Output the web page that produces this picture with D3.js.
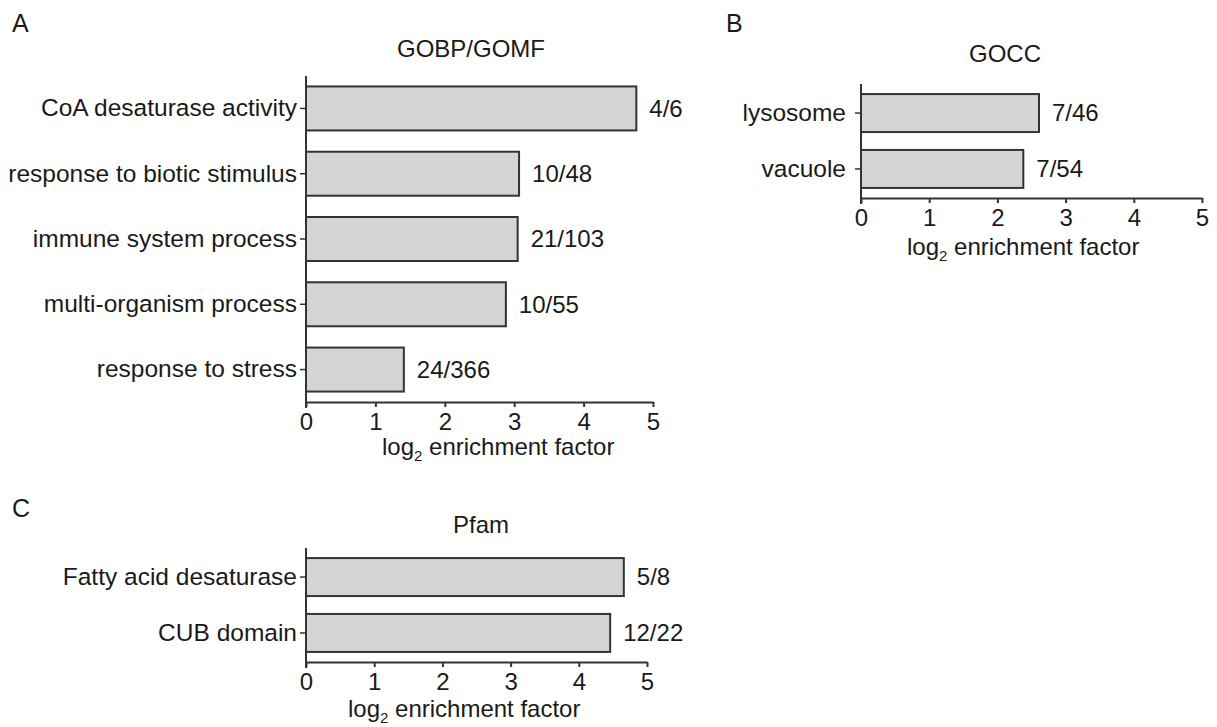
<!DOCTYPE html>
<html>
<head>
<meta charset="utf-8">
<script src="https://cdn.jsdelivr.net/npm/d3@7"></script>
<style>
  body { margin: 0; background: #fff; }
  text { font-family: "Liberation Sans", Arial, sans-serif; fill: #1a1a1a; }
</style>
</head>
<body>
<script>
// ---- data ----
var catsA = ["CoA desaturase activity", "response to biotic stimulus", "immune system process",
             "multi-organism process", "response to stress"];
var valsA = [4.76, 3.07, 3.05, 2.88, 1.41];
var countsA = ["4/6", "10/48", "21/103", "10/55", "24/366"];

var catsB = ["lysosome", "vacuole"];
var valsB = [2.61, 2.38];
var countsB = ["7/46", "7/54"];

var catsC = ["Fatty acid desaturase", "CUB domain"];
var valsC = [4.66, 4.46];
var countsC = ["5/8", "12/22"];

var xTicks = [0, 1, 2, 3, 4, 5];

var svg = d3.select("body").append("svg")
    .attr("width", 1217)
    .attr("height", 727);

// panel letters
[["A", 12, 32], ["B", 726, 32], ["C", 12, 517]].forEach(function(p) {
  svg.append("text").attr("x", p[1]).attr("y", p[2])
     .style("font-size", "25px").text(p[0]);
});

function drawPanel(cfg, cats, vals, counts) {
  var x = d3.scaleLinear().domain([0, 5]).range([cfg.x0, cfg.x1]);
  var y = d3.scaleBand().domain(cats).range([cfg.y0, cfg.y1])
      .paddingInner(cfg.padIn).paddingOuter(cfg.padOut);

  var g = svg.append("g");

  // bars
  g.selectAll("rect.bar").data(vals).enter().append("rect")
      .attr("class", "bar")
      .attr("x", x(0))
      .attr("y", function(d, i) { return y(cats[i]); })
      .attr("width", function(d) { return x(d) - x(0); })
      .attr("height", y.bandwidth())
      .attr("fill", "#d4d4d4")
      .attr("stroke", "#333")
      .attr("stroke-width", 2);

  // count labels
  g.selectAll("text.count").data(counts).enter().append("text")
      .attr("class", "count")
      .attr("x", function(d, i) { return x(vals[i]) + 13; })
      .attr("y", function(d, i) { return y(cats[i]) + y.bandwidth() / 2; })
      .attr("dy", "0.35em")
      .style("font-size", "24px")
      .text(function(d) { return d; });

  // y axis
  var ya = g.append("g")
      .attr("transform", "translate(" + cfg.x0 + ",0)")
      .call(d3.axisLeft(y).tickSize(6).tickPadding(cfg.yPad).tickSizeOuter(0));
  ya.select(".domain").remove();
  ya.append("line")
      .attr("x1", 0).attr("x2", 0)
      .attr("y1", cfg.y0).attr("y2", cfg.y1 + 6)
      .attr("stroke", "#333").attr("stroke-width", 2);
  ya.selectAll(".tick line").attr("stroke", "#333").attr("stroke-width", 1.5);
  ya.selectAll(".tick text")
      .attr("fill", "#1a1a1a")
      .style("font-family", "'Liberation Sans', Arial, sans-serif")
      .style("font-size", "24.5px");

  // x axis
  var xa = g.append("g")
      .attr("transform", "translate(0," + cfg.y1 + ")")
      .call(d3.axisBottom(x).tickValues(xTicks).tickFormat(d3.format("d"))
            .tickSize(5).tickPadding(6).tickSizeOuter(0));
  xa.select(".domain").attr("stroke", "#333").attr("stroke-width", 2);
  xa.selectAll(".tick line").attr("stroke", "#333").attr("stroke-width", 2);
  xa.selectAll(".tick text")
      .attr("fill", "#1a1a1a")
      .style("font-family", "'Liberation Sans', Arial, sans-serif")
      .style("font-size", "24px");

  // panel title
  g.append("text")
      .attr("x", cfg.titleX).attr("y", cfg.titleY)
      .attr("text-anchor", "middle")
      .style("font-size", "24px")
      .text(cfg.title);

  // axis title with subscript
  var t = g.append("text")
      .attr("x", cfg.labX).attr("y", cfg.y1 + cfg.labDy)
      .style("font-size", "24px");
  t.append("tspan").text("log");
  t.append("tspan").attr("dy", 6).style("font-size", "15px").text("2");
  t.append("tspan").attr("dy", -6).text(" enrichment factor");
}

drawPanel({x0: 306, x1: 653, y0: 76, y1: 402, padIn: 0.326, padOut: 0.16, yPad: 3,
           title: "GOBP/GOMF", titleX: 471, titleY: 57, labX: 382, labDy: 53},
          catsA, valsA, countsA);
drawPanel({x0: 861, x1: 1202, y0: 84, y1: 198, padIn: 0.32, padOut: 0.18, yPad: 9,
           title: "GOCC", titleX: 1005, titleY: 62, labX: 907, labDy: 57},
          catsB, valsB, countsB);
drawPanel({x0: 306, x1: 647, y0: 548, y1: 662, padIn: 0.32, padOut: 0.18, yPad: 3,
           title: "Pfam", titleX: 481, titleY: 533, labX: 348, labDy: 55},
          catsC, valsC, countsC);
</script>
</body>
</html>
